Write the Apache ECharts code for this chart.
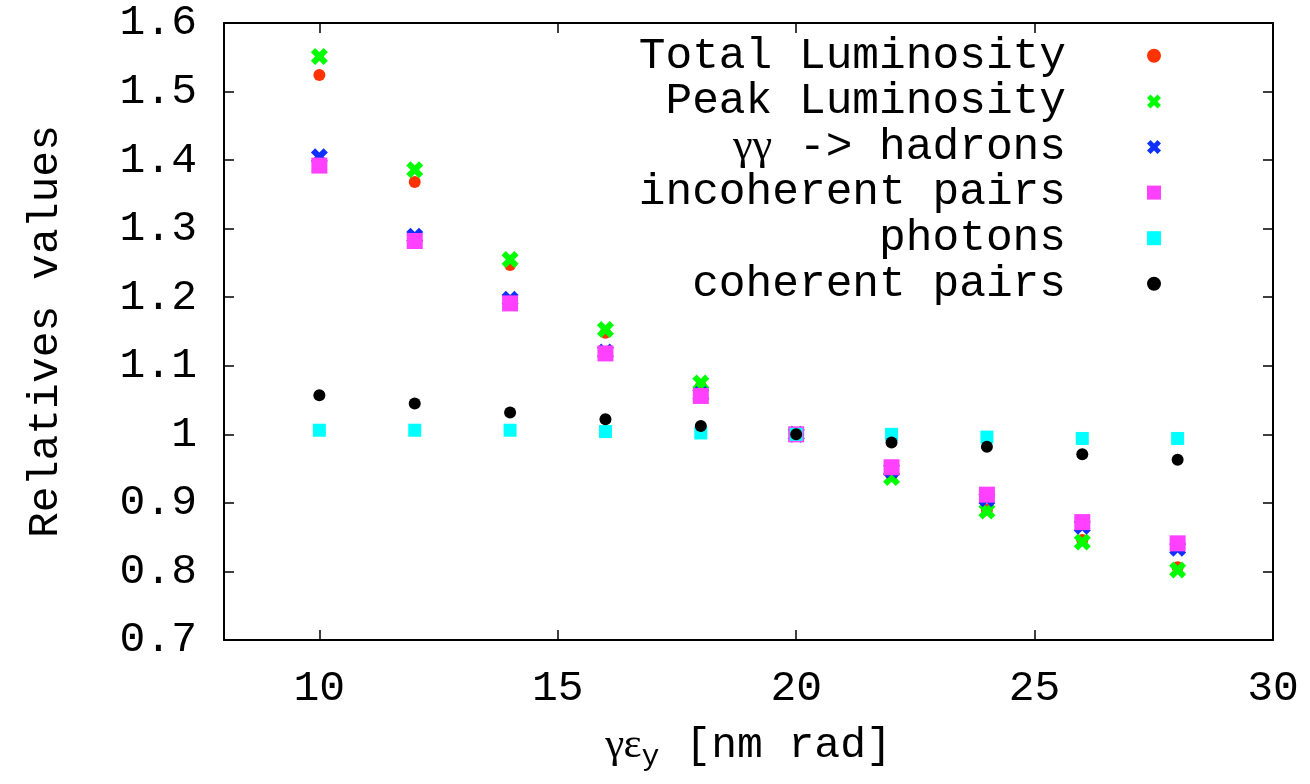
<!DOCTYPE html>
<html>
<head>
<meta charset="utf-8">
<script src="https://cdn.jsdelivr.net/npm/echarts@6/dist/echarts.min.js"></script>
<style>
html,body{margin:0;padding:0;background:#fff;}
#chart{width:1310px;height:784px;}
</style>
</head>
<body>
<div id="chart"></div>
<script>
// ---- data ----
const xValues = [10, 12, 14, 16, 18, 20, 22, 24, 26, 28];
const totalLum = [1.524, 1.368, 1.247, 1.148, 1.070, 1.000, 0.940, 0.890, 0.846, 0.806];
const peakLum  = [1.551, 1.386, 1.255, 1.153, 1.075, 1.000, 0.937, 0.888, 0.843, 0.802];
const hadrons  = [1.405, 1.289, 1.197, 1.120, 1.058, 1.000, 0.948, 0.906, 0.866, 0.834];
const incoh    = [1.392, 1.282, 1.191, 1.118, 1.056, 1.000, 0.952, 0.912, 0.872, 0.841];
const photons  = [1.006, 1.006, 1.006, 1.004, 1.002, 1.000, 1.000, 0.996, 0.994, 0.994];
const coh      = [1.057, 1.045, 1.032, 1.022, 1.012, 1.000, 0.988, 0.982, 0.971, 0.963];
const xTicks = [10, 15, 20, 25, 30];
const seriesNames = ['Total Luminosity', 'Peak Luminosity', 'γγ -> hadrons', 'incoherent pairs', 'photons', 'coherent pairs'];

const FONT = 'Liberation Mono';
const crossPath = 'path://M0,2.5L2.5,0L5,2.5L7.5,0L10,2.5L7.5,5L10,7.5L7.5,10L5,7.5L2.5,10L0,7.5L2.5,5Z';
const squarePath = 'path://M0,0H10V10H0Z';

function pairs(ys){ return xValues.map((x,i)=>[x, ys[i]]); }

const styles = [
  {data: totalLum, symbol: 'circle', size: 12, color: '#ff3300'},
  {data: peakLum,  symbol: crossPath, size: 17, color: '#00ff00'},
  {data: hadrons,  symbol: crossPath, size: 17, color: '#1030ff'},
  {data: incoh,    symbol: squarePath, size: 16, color: '#ff40ff'},
  {data: photons,  symbol: squarePath, size: 13, color: '#00ffff'},
  {data: coh,      symbol: 'circle', size: 12, color: '#000000'}
];

const series = styles.map((s, i) => ({
  name: seriesNames[i],
  type: 'scatter',
  data: pairs(s.data),
  symbol: s.symbol,
  symbolSize: s.size,
  itemStyle: {color: s.color, opacity: 1},
  emphasis: {disabled: true},
  xAxisIndex: 0, yAxisIndex: 0
}));

const axisLineStyle = {show: true, onZero: false, lineStyle: {color: '#000', width: 2}};

const option = {
  backgroundColor: '#fff',
  animation: false,
  grid: {left: 224, right: 37, top: 23, bottom: 144, containLabel: false},
  legend: {
    orient: 'vertical',
    align: 'right',
    right: 149,
    top: 33,
    padding: 0,
    itemWidth: 166,
    itemHeight: 14,
    itemGap: 0,
    selectedMode: false,
    symbolKeepAspect: true,
    data: seriesNames,
    textStyle: {
      fontFamily: FONT, fontSize: 44.5, color: '#000', lineHeight: 45.6,
      rich: {g: {fontFamily: 'Liberation Serif', fontSize: 44.5, color: '#000', lineHeight: 45.6}}
    },
    formatter: function(name){
      if (name.indexOf('γγ') === 0) return '{g|γγ}' + name.slice(2);
      return name;
    }
  },
  xAxis: [
    {
      type: 'value', min: 8, max: 30, position: 'bottom',
      axisLine: axisLineStyle,
      axisTick: {show: true, inside: true, length: 10, customValues: xTicks, lineStyle: {color: '#000', width: 1.5}},
      axisLabel: {customValues: xTicks, fontFamily: FONT, fontSize: 43, color: '#000', margin: 27},
      splitLine: {show: false},
      name: '{g|γε}{s|y}{t| [nm rad]}',
      nameLocation: 'middle',
      nameGap: 80,
      nameTextStyle: {
        color: '#000',
        rich: {
          g: {fontFamily: 'Liberation Serif', fontSize: 43, color: '#000'},
          s: {fontFamily: FONT, fontSize: 30, color: '#000', verticalAlign: 'bottom', padding: [22, 0, 0, 0]},
          t: {fontFamily: FONT, fontSize: 43, color: '#000'}
        }
      }
    },
    {
      type: 'value', min: 8, max: 30, position: 'top',
      axisLine: axisLineStyle,
      axisTick: {show: true, inside: true, length: 10, customValues: xTicks, lineStyle: {color: '#000', width: 1.5}},
      axisLabel: {show: false},
      splitLine: {show: false}
    }
  ],
  yAxis: [
    {
      type: 'value', min: 0.7, max: 1.6, interval: 0.1, position: 'left',
      axisLine: axisLineStyle,
      axisTick: {show: true, inside: true, length: 10, lineStyle: {color: '#000', width: 1.5}},
      axisLabel: {fontFamily: FONT, fontSize: 43, color: '#000', margin: 27,
        formatter: function(v){ return String(Math.round(v*10)/10); }},
      splitLine: {show: false},
      name: 'Relatives values',
      nameLocation: 'middle',
      nameGap: 157,
      nameTextStyle: {fontFamily: FONT, fontSize: 43, color: '#000'}
    },
    {
      type: 'value', min: 0.7, max: 1.6, interval: 0.1, position: 'right',
      axisLine: axisLineStyle,
      axisTick: {show: true, inside: true, length: 10, lineStyle: {color: '#000', width: 1.5}},
      axisLabel: {show: false},
      splitLine: {show: false}
    }
  ],
  series: series
};

const chart = echarts.init(document.getElementById('chart'), null, {renderer: 'canvas'});
chart.setOption(option);
</script>
</body>
</html>
